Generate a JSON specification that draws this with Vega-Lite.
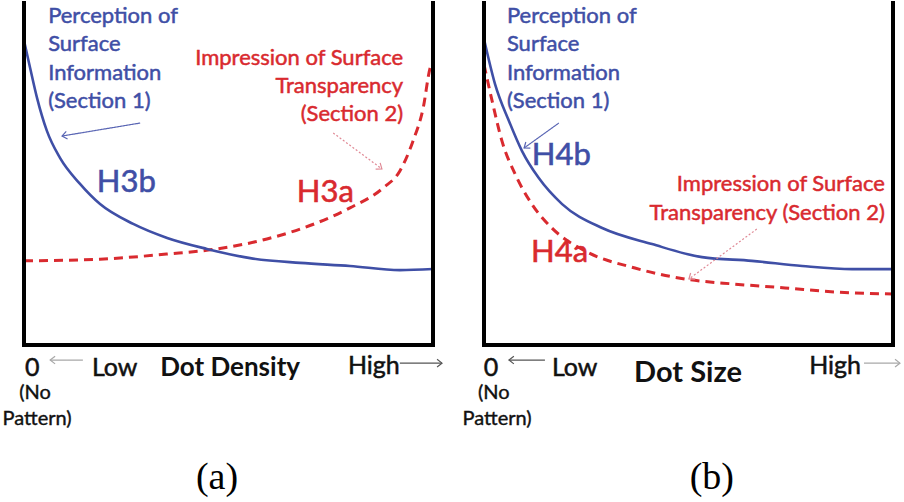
{
  "$schema": "https://vega.github.io/schema/vega-lite/v6.json",
  "autosize": {"type": "pad"},
  "padding": {"left": 2, "top": 0, "right": 0, "bottom": 0},
  "background": "white",
  "bounds": "flush",
  "config": {"view": {"stroke": null}, "font": "Lato"},
  "data": {"values": [
    {"panel": "a", "kind": "border", "x": 0, "y": 0, "x2": 0, "y2": 100},
    {"panel": "a", "kind": "border", "x": 100, "y": 0, "x2": 100, "y2": 100},
    {"panel": "a", "kind": "border", "x": 0, "y": 0, "x2": 100, "y2": 0},
    {"panel": "b", "kind": "border", "x": 0, "y": 0, "x2": 0, "y2": 100},
    {"panel": "b", "kind": "border", "x": 100, "y": 0, "x2": 100, "y2": 100},
    {"panel": "b", "kind": "border", "x": 0, "y": 0, "x2": 100, "y2": 0},

    {"panel": "a", "kind": "curve", "series": "perception", "x": 0, "y": 89},
    {"panel": "a", "kind": "curve", "series": "perception", "x": 1.5, "y": 81},
    {"panel": "a", "kind": "curve", "series": "perception", "x": 3.2, "y": 72.2},
    {"panel": "a", "kind": "curve", "series": "perception", "x": 5.6, "y": 62.6},
    {"panel": "a", "kind": "curve", "series": "perception", "x": 8.8, "y": 54.7},
    {"panel": "a", "kind": "curve", "series": "perception", "x": 13.7, "y": 47.1},
    {"panel": "a", "kind": "curve", "series": "perception", "x": 18.6, "y": 41.2},
    {"panel": "a", "kind": "curve", "series": "perception", "x": 26.7, "y": 35.4},
    {"panel": "a", "kind": "curve", "series": "perception", "x": 35, "y": 31.3},
    {"panel": "a", "kind": "curve", "series": "perception", "x": 44.7, "y": 28.1},
    {"panel": "a", "kind": "curve", "series": "perception", "x": 55.3, "y": 25.4},
    {"panel": "a", "kind": "curve", "series": "perception", "x": 67.5, "y": 24},
    {"panel": "a", "kind": "curve", "series": "perception", "x": 79.7, "y": 23.1},
    {"panel": "a", "kind": "curve", "series": "perception", "x": 91.9, "y": 21.9},
    {"panel": "a", "kind": "curve", "series": "perception", "x": 100, "y": 22.2},

    {"panel": "a", "kind": "curve", "series": "transparency", "x": 0, "y": 24.6},
    {"panel": "a", "kind": "curve", "series": "transparency", "x": 18.6, "y": 25.1},
    {"panel": "a", "kind": "curve", "series": "transparency", "x": 35, "y": 26.6},
    {"panel": "a", "kind": "curve", "series": "transparency", "x": 47.2, "y": 28.1},
    {"panel": "a", "kind": "curve", "series": "transparency", "x": 59.4, "y": 31},
    {"panel": "a", "kind": "curve", "series": "transparency", "x": 71.6, "y": 35.7},
    {"panel": "a", "kind": "curve", "series": "transparency", "x": 79.7, "y": 40.1},
    {"panel": "a", "kind": "curve", "series": "transparency", "x": 87.8, "y": 45.9},
    {"panel": "a", "kind": "curve", "series": "transparency", "x": 91.9, "y": 50.9},
    {"panel": "a", "kind": "curve", "series": "transparency", "x": 95.1, "y": 59.6},
    {"panel": "a", "kind": "curve", "series": "transparency", "x": 97.6, "y": 69.3},
    {"panel": "a", "kind": "curve", "series": "transparency", "x": 99.3, "y": 81},
    {"panel": "a", "kind": "curve", "series": "transparency", "x": 100, "y": 83},

    {"panel": "b", "kind": "curve", "series": "perception", "x": 0, "y": 89.5},
    {"panel": "b", "kind": "curve", "series": "perception", "x": 2.7, "y": 76.3},
    {"panel": "b", "kind": "curve", "series": "perception", "x": 6.1, "y": 65.5},
    {"panel": "b", "kind": "curve", "series": "perception", "x": 9.3, "y": 56.7},
    {"panel": "b", "kind": "curve", "series": "perception", "x": 13.4, "y": 48.8},
    {"panel": "b", "kind": "curve", "series": "perception", "x": 19.1, "y": 41.2},
    {"panel": "b", "kind": "curve", "series": "perception", "x": 28.9, "y": 34.2},
    {"panel": "b", "kind": "curve", "series": "perception", "x": 41.1, "y": 29.5},
    {"panel": "b", "kind": "curve", "series": "perception", "x": 53.3, "y": 25.7},
    {"panel": "b", "kind": "curve", "series": "perception", "x": 65.5, "y": 24.6},
    {"panel": "b", "kind": "curve", "series": "perception", "x": 77.8, "y": 23.1},
    {"panel": "b", "kind": "curve", "series": "perception", "x": 90, "y": 22.2},
    {"panel": "b", "kind": "curve", "series": "perception", "x": 100, "y": 22.2},

    {"panel": "b", "kind": "curve", "series": "transparency", "x": 0, "y": 82},
    {"panel": "b", "kind": "curve", "series": "transparency", "x": 2, "y": 71.3},
    {"panel": "b", "kind": "curve", "series": "transparency", "x": 4.4, "y": 59.6},
    {"panel": "b", "kind": "curve", "series": "transparency", "x": 7.6, "y": 50},
    {"panel": "b", "kind": "curve", "series": "transparency", "x": 11.7, "y": 41.2},
    {"panel": "b", "kind": "curve", "series": "transparency", "x": 16.6, "y": 34.2},
    {"panel": "b", "kind": "curve", "series": "transparency", "x": 24.7, "y": 27.5},
    {"panel": "b", "kind": "curve", "series": "transparency", "x": 36.9, "y": 22.5},
    {"panel": "b", "kind": "curve", "series": "transparency", "x": 49.1, "y": 19.3},
    {"panel": "b", "kind": "curve", "series": "transparency", "x": 61.4, "y": 17.8},
    {"panel": "b", "kind": "curve", "series": "transparency", "x": 73.6, "y": 16.7},
    {"panel": "b", "kind": "curve", "series": "transparency", "x": 85.8, "y": 15.5},
    {"panel": "b", "kind": "curve", "series": "transparency", "x": 100, "y": 14.9},

    {"panel": "a", "kind": "arrow", "style": "blue", "x": 28.4, "y": 64.9, "x2": 9.3, "y2": 61.1, "dir": 260},
    {"panel": "a", "kind": "arrow", "style": "red", "x": 75.6, "y": 62.0, "x2": 87.5, "y2": 51.5, "dir": 126},
    {"panel": "a", "kind": "arrow", "style": "grayL", "x": 14.4, "y": -4.4, "x2": 6.4, "y2": -4.4, "dir": 270},
    {"panel": "a", "kind": "arrow", "style": "grayD", "x": 91.9, "y": -5.3, "x2": 102.2, "y2": -5.3, "dir": 90},
    {"panel": "b", "kind": "arrow", "style": "blue", "x": 18.3, "y": 64.9, "x2": 9.8, "y2": 57.6, "dir": 234},
    {"panel": "b", "kind": "arrow", "style": "red", "x": 66.7, "y": 33.9, "x2": 50.1, "y2": 19.3, "dir": 234},
    {"panel": "b", "kind": "arrow", "style": "grayD", "x": 14.9, "y": -4.4, "x2": 6.1, "y2": -4.4, "dir": 270},
    {"panel": "b", "kind": "arrow", "style": "grayL", "x": 92.9, "y": -5.3, "x2": 101.7, "y2": -5.3, "dir": 90},

    {"panel": "a", "kind": "text", "role": "blueNote", "text": "Perception of", "x": 5.9, "y": 96.2},
    {"panel": "a", "kind": "text", "role": "blueNote", "text": "Surface", "x": 5.9, "y": 88.0},
    {"panel": "a", "kind": "text", "role": "blueNote", "text": "Information", "x": 5.9, "y": 79.5},
    {"panel": "a", "kind": "text", "role": "blueNote", "text": "(Section 1)", "x": 5.9, "y": 71.3},
    {"panel": "a", "kind": "text", "role": "redNote", "text": "Impression of Surface", "x": 92.7, "y": 83.9},
    {"panel": "a", "kind": "text", "role": "redNote", "text": "Transparency", "x": 92.7, "y": 75.7},
    {"panel": "a", "kind": "text", "role": "redNote", "text": "(Section 2)", "x": 92.7, "y": 67.5},
    {"panel": "a", "kind": "text", "role": "blueHyp", "text": "H3b", "x": 17.8, "y": 47.4},
    {"panel": "a", "kind": "text", "role": "redHyp", "text": "H3a", "x": 66.7, "y": 44.4},
    {"panel": "a", "kind": "text", "role": "axisC", "text": "0", "x": 2.0, "y": -6.7},
    {"panel": "a", "kind": "text", "role": "axisL", "text": "Low", "x": 16.6, "y": -6.7},
    {"panel": "a", "kind": "text", "role": "axisL", "text": "High", "x": 79.2, "y": -6.1},
    {"panel": "a", "kind": "text", "role": "xtitleA", "text": "Dot Density", "x": 33.3, "y": -6.7},
    {"panel": "a", "kind": "text", "role": "note", "text": "(No", "x": 2.7, "y": -14},
    {"panel": "a", "kind": "text", "role": "note", "text": "Pattern)", "x": 3.2, "y": -21.6},
    {"panel": "a", "kind": "text", "role": "caption", "text": "(a)", "x": 47.2, "y": -38.9},

    {"panel": "b", "kind": "text", "role": "blueNote", "text": "Perception of", "x": 5.6, "y": 96.2},
    {"panel": "b", "kind": "text", "role": "blueNote", "text": "Surface", "x": 5.6, "y": 88.0},
    {"panel": "b", "kind": "text", "role": "blueNote", "text": "Information", "x": 5.6, "y": 79.5},
    {"panel": "b", "kind": "text", "role": "blueNote", "text": "(Section 1)", "x": 5.6, "y": 71.3},
    {"panel": "b", "kind": "text", "role": "redNote", "text": "Impression of Surface", "x": 98.0, "y": 47.1},
    {"panel": "b", "kind": "text", "role": "redNote", "text": "Transparency (Section 2)", "x": 98.0, "y": 38.6},
    {"panel": "b", "kind": "text", "role": "blueHyp", "text": "H4b", "x": 11.7, "y": 55.3},
    {"panel": "b", "kind": "text", "role": "redHyp", "text": "H4a", "x": 11.5, "y": 26.9},
    {"panel": "b", "kind": "text", "role": "axisC", "text": "0", "x": 1.7, "y": -6.7},
    {"panel": "b", "kind": "text", "role": "axisL", "text": "Low", "x": 16.6, "y": -6.7},
    {"panel": "b", "kind": "text", "role": "axisL", "text": "High", "x": 79.5, "y": -6.1},
    {"panel": "b", "kind": "text", "role": "xtitleB", "text": "Dot Size", "x": 36.7, "y": -8.2},
    {"panel": "b", "kind": "text", "role": "note", "text": "(No", "x": 2.4, "y": -14},
    {"panel": "b", "kind": "text", "role": "note", "text": "Pattern)", "x": 3.2, "y": -21.6},
    {"panel": "b", "kind": "text", "role": "caption", "text": "(b)", "x": 55.7, "y": -38.9}
  ]},
  "facet": {"column": {"field": "panel", "type": "nominal", "header": null}},
  "spacing": {"column": 51},
  "spec": {
    "width": 409,
    "height": 342,
    "layer": [
      {
        "transform": [{"filter": "datum.kind === 'curve' && datum.series === 'transparency'"}],
        "mark": {"type": "line", "interpolate": "monotone", "color": "#d92a2f", "strokeWidth": 3, "strokeDash": [9, 6], "clip": false},
        "encoding": {
          "x": {"field": "x", "type": "quantitative", "scale": {"domain": [0, 100], "nice": false, "zero": false}, "axis": null},
          "y": {"field": "y", "type": "quantitative", "scale": {"domain": [0, 100], "nice": false, "zero": false}, "axis": null},
          "order": {"field": "x", "type": "quantitative"}
        }
      },
      {
        "transform": [{"filter": "datum.kind === 'curve' && datum.series === 'perception'"}],
        "mark": {"type": "line", "interpolate": "monotone", "color": "#3f4fa6", "strokeWidth": 2.6, "clip": false},
        "encoding": {
          "x": {"field": "x", "type": "quantitative", "axis": null},
          "y": {"field": "y", "type": "quantitative", "axis": null},
          "order": {"field": "x", "type": "quantitative"}
        }
      },
      {
        "transform": [{"filter": "datum.kind === 'border'"}],
        "mark": {"type": "rule", "color": "#000000", "strokeWidth": 4, "strokeCap": "square"},
        "encoding": {
          "x": {"field": "x", "type": "quantitative", "axis": null},
          "y": {"field": "y", "type": "quantitative", "axis": null},
          "x2": {"field": "x2"},
          "y2": {"field": "y2"}
        }
      },
      {
        "transform": [{"filter": "datum.kind === 'arrow'"}],
        "mark": {"type": "rule", "strokeWidth": 1.2},
        "encoding": {
          "x": {"field": "x", "type": "quantitative", "axis": null},
          "y": {"field": "y", "type": "quantitative", "axis": null},
          "x2": {"field": "x2"},
          "y2": {"field": "y2"},
          "color": {"field": "style", "type": "nominal", "legend": null, "scale": {"domain": ["blue", "red", "grayL", "grayD"], "range": ["#5a66b4", "#e08a96", "#a8a8a8", "#555555"]}},
          "strokeDash": {"field": "style", "type": "nominal", "legend": null, "scale": {"domain": ["blue", "red", "grayL", "grayD"], "range": [[1, 0], [2, 2], [1, 0], [1, 0]]}}
        }
      },
      {
        "transform": [{"filter": "datum.kind === 'arrow'"}],
        "mark": {"type": "point", "shape": "M -0.7 0.9 L 0 0 L 0.7 0.9", "filled": false, "strokeWidth": 1.2, "size": 120, "opacity": 1},
        "encoding": {
          "x": {"field": "x2", "type": "quantitative", "axis": null},
          "y": {"field": "y2", "type": "quantitative", "axis": null},
          "angle": {"field": "dir", "type": "quantitative", "scale": null},
          "color": {"field": "style", "type": "nominal", "legend": null}
        }
      },
      {
        "transform": [{"filter": "datum.role === 'blueNote'"}],
        "mark": {"type": "text", "align": "left", "baseline": "middle", "fontSize": 22, "color": "#3f4fa6", "stroke": "#3f4fa6", "strokeWidth": 0.5},
        "encoding": {
          "x": {"field": "x", "type": "quantitative", "axis": null},
          "y": {"field": "y", "type": "quantitative", "axis": null},
          "text": {"field": "text"}
        }
      },
      {
        "transform": [{"filter": "datum.role === 'redNote'"}],
        "mark": {"type": "text", "align": "right", "baseline": "middle", "fontSize": 22, "color": "#d92a2f", "stroke": "#d92a2f", "strokeWidth": 0.5},
        "encoding": {
          "x": {"field": "x", "type": "quantitative", "axis": null},
          "y": {"field": "y", "type": "quantitative", "axis": null},
          "text": {"field": "text"}
        }
      },
      {
        "transform": [{"filter": "datum.role === 'blueHyp'"}],
        "mark": {"type": "text", "align": "left", "baseline": "middle", "fontSize": 31, "color": "#3f4fa6", "stroke": "#3f4fa6", "strokeWidth": 0.6},
        "encoding": {
          "x": {"field": "x", "type": "quantitative", "axis": null},
          "y": {"field": "y", "type": "quantitative", "axis": null},
          "text": {"field": "text"}
        }
      },
      {
        "transform": [{"filter": "datum.role === 'redHyp'"}],
        "mark": {"type": "text", "align": "left", "baseline": "middle", "fontSize": 31, "color": "#d92a2f", "stroke": "#d92a2f", "strokeWidth": 0.6},
        "encoding": {
          "x": {"field": "x", "type": "quantitative", "axis": null},
          "y": {"field": "y", "type": "quantitative", "axis": null},
          "text": {"field": "text"}
        }
      },
      {
        "transform": [{"filter": "datum.role === 'axisC'"}],
        "mark": {"type": "text", "align": "center", "baseline": "middle", "fontSize": 25, "color": "#111111", "stroke": "#111111", "strokeWidth": 0.5},
        "encoding": {
          "x": {"field": "x", "type": "quantitative", "axis": null},
          "y": {"field": "y", "type": "quantitative", "axis": null},
          "text": {"field": "text"}
        }
      },
      {
        "transform": [{"filter": "datum.role === 'axisL'"}],
        "mark": {"type": "text", "align": "left", "baseline": "middle", "fontSize": 25, "color": "#111111", "stroke": "#111111", "strokeWidth": 0.5},
        "encoding": {
          "x": {"field": "x", "type": "quantitative", "axis": null},
          "y": {"field": "y", "type": "quantitative", "axis": null},
          "text": {"field": "text"}
        }
      },
      {
        "transform": [{"filter": "datum.role === 'xtitleA'"}],
        "mark": {"type": "text", "align": "left", "baseline": "middle", "fontSize": 26, "fontWeight": "bold", "color": "#111111"},
        "encoding": {
          "x": {"field": "x", "type": "quantitative", "axis": null},
          "y": {"field": "y", "type": "quantitative", "axis": null},
          "text": {"field": "text"}
        }
      },
      {
        "transform": [{"filter": "datum.role === 'xtitleB'"}],
        "mark": {"type": "text", "align": "left", "baseline": "middle", "fontSize": 29, "fontWeight": "bold", "color": "#111111"},
        "encoding": {
          "x": {"field": "x", "type": "quantitative", "axis": null},
          "y": {"field": "y", "type": "quantitative", "axis": null},
          "text": {"field": "text"}
        }
      },
      {
        "transform": [{"filter": "datum.role === 'note'"}],
        "mark": {"type": "text", "align": "center", "baseline": "middle", "fontSize": 20, "color": "#111111", "stroke": "#111111", "strokeWidth": 0.4},
        "encoding": {
          "x": {"field": "x", "type": "quantitative", "axis": null},
          "y": {"field": "y", "type": "quantitative", "axis": null},
          "text": {"field": "text"}
        }
      },
      {
        "transform": [{"filter": "datum.role === 'caption'"}],
        "mark": {"type": "text", "align": "center", "baseline": "middle", "fontSize": 38, "font": "Liberation Serif", "color": "#000000"},
        "encoding": {
          "x": {"field": "x", "type": "quantitative", "axis": null},
          "y": {"field": "y", "type": "quantitative", "axis": null},
          "text": {"field": "text"}
        }
      }
    ]
  }
}
